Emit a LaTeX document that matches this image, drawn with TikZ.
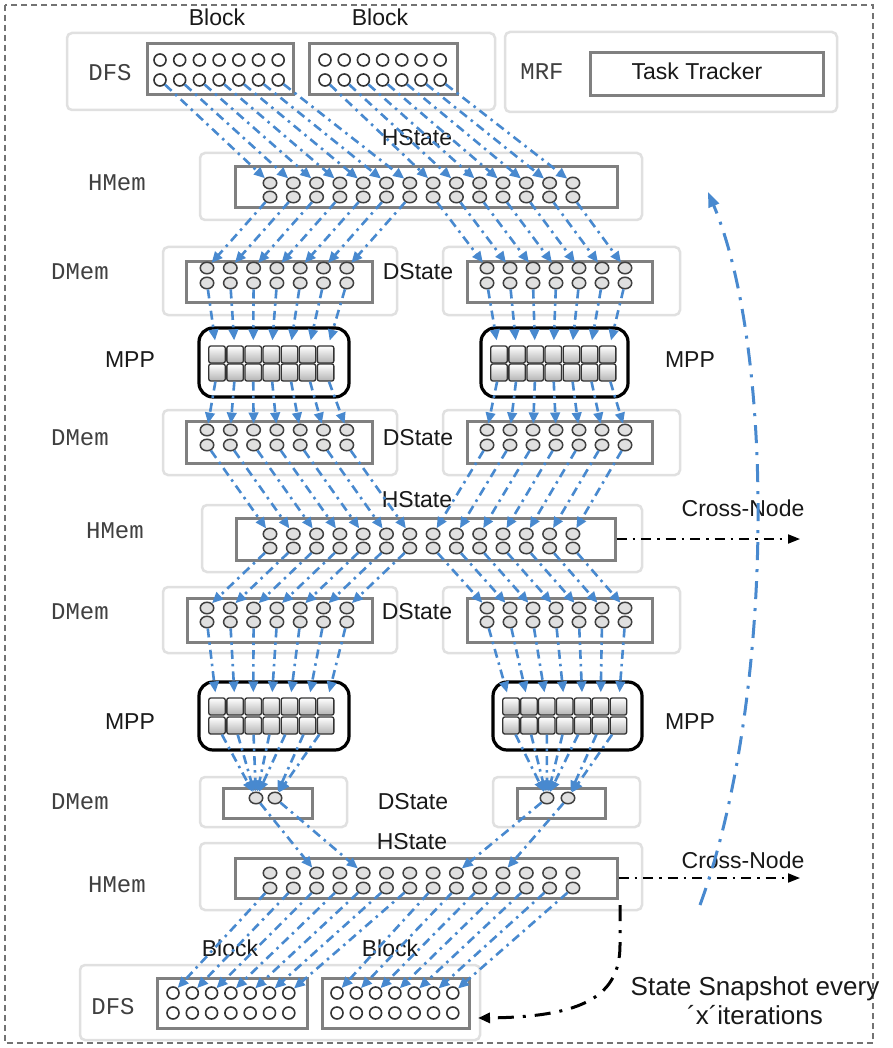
\documentclass[tikz,border=0pt]{standalone}
\usepackage{fontspec}
\setmainfont{Liberation Sans}
\newfontfamily\monof{Liberation Mono}
\usetikzlibrary{arrows.meta,shapes.geometric,fit}
\definecolor{blueln}{RGB}{72,137,207}
\tikzset{
 lightbox/.style={draw=black!12, line width=2.5pt, rounded corners=5pt, inner sep=0pt},
 innerbox/.style={draw=black!50, line width=3pt, fill=white, inner sep=0pt},
 mppbox/.style={draw=black, line width=3.2pt, rounded corners=14pt, fill=white, inner sep=0pt},
 dfsc/.style={circle, draw=black!80, fill=white, line width=1.6pt, minimum size=12pt, inner sep=0pt},
 memc/.style={ellipse, draw=black!75, fill=black!12, line width=1.5pt, minimum width=13.5pt, minimum height=11.5pt, inner sep=0pt},
 cellbox/.style={rectangle, rounded corners=2pt, draw=black!80, line width=1.3pt, top color=white, bottom color=black!30, minimum width=16.5pt, minimum height=17pt, inner sep=0pt},
 sanslbl/.style={font=\fontsize{23}{27}\selectfont, text=black!90, inner sep=0pt},
 monolbl/.style={font=\monof\fontsize{24}{26}\selectfont, text=black!75, inner sep=0pt},
 bl/.style={draw=blueln, line width=2.6pt, dash pattern=on 9pt off 5pt on 2.5pt off 5pt, -{Triangle[length=11pt,width=9.5pt]}},
 crossarr/.style={draw=black, line width=1.8pt, dash pattern=on 10pt off 6pt on 2.5pt off 6pt, -{Triangle[length=12pt,width=9pt]}},
 snaparr/.style={draw=black, line width=3pt, dash pattern=on 16pt off 9pt on 3pt off 9pt, -{Triangle[length=12pt,width=10pt]}},
 bigblue/.style={draw=blueln, line width=3pt, dash pattern=on 18pt off 9pt on 3pt off 9pt, -{Triangle[length=15pt,width=11pt]}},
 borderln/.style={draw=black!55, line width=1.5pt, dash pattern=on 6pt off 4pt}
}
\begin{document}
\begin{tikzpicture}[x=1pt,y=-1pt]
\useasboundingbox (0,0) rectangle (892,1048);
\fill[white] (0,0) rectangle (892,1048);
\draw[borderln] (5,5) rectangle (873,1043);

% ---------- boxes ----------
\node[lightbox, fit={(67,33) (495,110)}] (dfsA) {};
\node[innerbox, fit={(147,44) (293,95)}] (blkA1) {};
\node[innerbox, fit={(309,44) (457,95)}] (blkA2) {};
\node[lightbox, fit={(505,32) (837,112)}] (mrf) {};
\node[innerbox, fit={(590,53) (823,96)}] (tt) {};
\node[lightbox, fit={(200,153) (642,220)}] (hmo1) {};
\node[innerbox, fit={(235,167) (617,208)}] (hmi1) {};
\node[lightbox, fit={(202,505) (642,572)}] (hmo2) {};
\node[innerbox, fit={(236,518) (615,560)}] (hmi2) {};
\node[lightbox, fit={(200,843) (642,910)}] (hmo3) {};
\node[innerbox, fit={(235,858) (617,898)}] (hmi3) {};
\node[lightbox, fit={(163,247) (397,315)}] (dmo1L) {};
\node[lightbox, fit={(443,247) (680,315)}] (dmo1R) {};
\node[innerbox, fit={(186,262) (372,302)}] (dmi1L) {};
\node[innerbox, fit={(467,262) (652,302)}] (dmi1R) {};
\node[lightbox, fit={(163,410) (397,475)}] (dmo2L) {};
\node[lightbox, fit={(443,410) (680,475)}] (dmo2R) {};
\node[innerbox, fit={(186,421) (372,463)}] (dmi2L) {};
\node[innerbox, fit={(467,421) (652,463)}] (dmi2R) {};
\node[lightbox, fit={(163,587) (397,653)}] (dmo3L) {};
\node[lightbox, fit={(443,587) (680,653)}] (dmo3R) {};
\node[innerbox, fit={(187,598) (372,642)}] (dmi3L) {};
\node[innerbox, fit={(467,598) (652,642)}] (dmi3R) {};
\node[lightbox, fit={(200,777) (347,827)}] (dmo4L) {};
\node[lightbox, fit={(493,777) (640,827)}] (dmo4R) {};
\node[innerbox, fit={(223,788) (312,818)}] (dmi4L) {};
\node[innerbox, fit={(517,788) (605,818)}] (dmi4R) {};
\node[mppbox, fit={(199,328) (349,397)}] (mpp1L) {};
\node[mppbox, fit={(481,328) (628,397)}] (mpp1R) {};
\node[mppbox, fit={(199,682) (349,750)}] (mpp2L) {};
\node[mppbox, fit={(493,682) (642,750)}] (mpp2R) {};
\node[lightbox, fit={(80,965) (480,1040)}] (dfsB) {};
\node[innerbox, fit={(157,978) (307,1028)}] (blkB1) {};
\node[innerbox, fit={(322,978) (469,1028)}] (blkB2) {};

% ---------- labels ----------
\node[sanslbl] (lbA1) at (217,17) {Block};
\node[sanslbl] (lbA2) at (380,17) {Block};
\node[monolbl] (ldfsA) at (110,73) {DFS};
\node[monolbl] (lmrf) at (542,72) {MRF};
\node[sanslbl] (ltt) at (697,71) {Task Tracker};
\node[sanslbl] (lhs1) at (417,138) {HState};
\node[sanslbl] (lhs2) at (417,500) {HState};
\node[sanslbl] (lhs3) at (412,842) {HState};
\node[monolbl] (lhm1) at (117,183) {HMem};
\node[monolbl] (lhm2) at (115,531) {HMem};
\node[monolbl] (lhm3) at (117,885) {HMem};
\node[monolbl] (ldm1) at (80,272) {DMem};
\node[monolbl] (ldm2) at (80,438) {DMem};
\node[monolbl] (ldm3) at (80,612) {DMem};
\node[monolbl] (ldm4) at (80,802) {DMem};
\node[sanslbl] (lds1) at (418,272) {DState};
\node[sanslbl] (lds2) at (418,438) {DState};
\node[sanslbl] (lds3) at (417,612) {DState};
\node[sanslbl] (lds4) at (413,802) {DState};
\node[sanslbl] (lmp1) at (130,360) {MPP};
\node[sanslbl] (lmp2) at (690,360) {MPP};
\node[sanslbl] (lmp3) at (130,722) {MPP};
\node[sanslbl] (lmp4) at (690,722) {MPP};
\node[sanslbl] (lcn1) at (743,508) {Cross-Node};
\node[sanslbl] (lcn2) at (743,860) {Cross-Node};
\node[sanslbl] (lbB1) at (230,948) {Block};
\node[sanslbl] (lbB2) at (390,948) {Block};
\node[monolbl] (ldfsB) at (113,1007) {DFS};
\node[sanslbl, font=\fontsize{26}{29}\selectfont, align=center] (lsnap) at (755,1001) {State Snapshot every\\´x´iterations};

% ---------- circles and cells ----------
\foreach \k in {0,...,6}{
  \pgfmathtruncatemacro\c{\k+7}
  \pgfmathsetmacro\xa{160+19.7*\k}
  \pgfmathsetmacro\xb{325+19.2*\k}
  \pgfmathsetmacro\xc{173+19.3*\k}
  \pgfmathsetmacro\xd{337+19.3*\k}
  \pgfmathsetmacro\xl{207+23.3*\k}
  \pgfmathsetmacro\xr{487+23*\k}
  \pgfmathsetmacro\pl{217+18.1*\k}
  \pgfmathsetmacro\pra{499+18.1*\k}
  \pgfmathsetmacro\prb{511+17.9*\k}
  \node[dfsc] (d1-\k-t) at (\xa,60) {};
  \node[dfsc] (d1-\k-b) at (\xa,80) {};
  \node[dfsc] (d1-\c-t) at (\xb,60) {};
  \node[dfsc] (d1-\c-b) at (\xb,80) {};
  \node[dfsc] (d2-\k-t) at (\xc,993) {};
  \node[dfsc] (d2-\k-b) at (\xc,1013) {};
  \node[dfsc] (d2-\c-t) at (\xd,993) {};
  \node[dfsc] (d2-\c-b) at (\xd,1013) {};
  \foreach \rw/\ya/\yb in {m1/268/283, m2/430/445, m3/608/622}{
    \node[memc] (\rw-\k-t) at (\xl,\ya) {};
    \node[memc] (\rw-\k-b) at (\xl,\yb) {};
    \node[memc] (\rw-\c-t) at (\xr,\ya) {};
    \node[memc] (\rw-\c-b) at (\xr,\yb) {};
  }
  \node[cellbox] (p1-\k-t) at (\pl,354.5) {};
  \node[cellbox] (p1-\k-b) at (\pl,372.5) {};
  \node[cellbox] (p1-\c-t) at (\pra,354.5) {};
  \node[cellbox] (p1-\c-b) at (\pra,372.5) {};
  \node[cellbox] (p2-\k-t) at (\pl,706.5) {};
  \node[cellbox] (p2-\k-b) at (\pl,725.5) {};
  \node[cellbox] (p2-\c-t) at (\prb,706.5) {};
  \node[cellbox] (p2-\c-b) at (\prb,725.5) {};
}
\foreach \k in {0,...,13}{
  \pgfmathsetmacro\xh{270+23.3*\k}
  \node[memc] (h1-\k-t) at (\xh,183) {};
  \node[memc] (h1-\k-b) at (\xh,197) {};
  \node[memc] (h2-\k-t) at (\xh,534) {};
  \node[memc] (h2-\k-b) at (\xh,548) {};
  \node[memc] (h3-\k-t) at (\xh,873) {};
  \node[memc] (h3-\k-b) at (\xh,888) {};
}
\node[memc] (s0) at (256,798) {};
\node[memc] (s1) at (275,798) {};
\node[memc] (s2) at (547,798) {};
\node[memc] (s3) at (568,798) {};

% ---------- blue connectors ----------
\foreach \k in {0,...,13}{
  \draw[bl] (d1-\k-b) -- (h1-\k-t);
  \draw[bl] (h1-\k-b) -- (m1-\k-t);
  \draw[bl, shorten >=5pt] (m1-\k-b) -- (p1-\k-t);
  \draw[bl] (p1-\k-b) -- (m2-\k-t);
  \draw[bl] (m2-\k-b) -- (h2-\k-t);
  \draw[bl] (h2-\k-b) -- (m3-\k-t);
  \draw[bl, shorten >=5pt] (m3-\k-b) -- (p2-\k-t);
  \draw[bl] (h3-\k-b) -- (d2-\k-t);
}
\foreach \k/\s in {0/0,1/0,2/0,3/0,4/0,5/1,6/1,7/2,8/2,9/2,10/2,11/2,12/3,13/3}{
  \draw[bl] (p2-\k-b) -- (s\s);
}
\draw[bl] (s0) -- (h3-2-t);
\draw[bl] (s1) -- (h3-4-t);
\draw[bl] (s2) -- (h3-8-t);
\draw[bl] (s3) -- (h3-10-t);

% ---------- cross-node arrows ----------
\coordinate (cnE1) at (800,539);
\coordinate (cnE2) at (800,878);
\draw[crossarr] (hmi2.east) -- (cnE1);
\draw[crossarr] (hmi3.east) -- (cnE2);

% ---------- snapshot arrow ----------
\coordinate (snS) at (620,905);
\coordinate (snM) at (620,945);
\coordinate (snE) at (478,1018);
\draw[snaparr] (snS) -- (snM) .. controls (620,995) and (585,1017) .. (snE);

% ---------- big blue loop ----------
\coordinate (bbS) at (700,905);
\coordinate (bbE) at (708,192);
\draw[bigblue] (bbS) .. controls (775,700) and (775,350) .. (bbE);
\end{tikzpicture}
\end{document}
